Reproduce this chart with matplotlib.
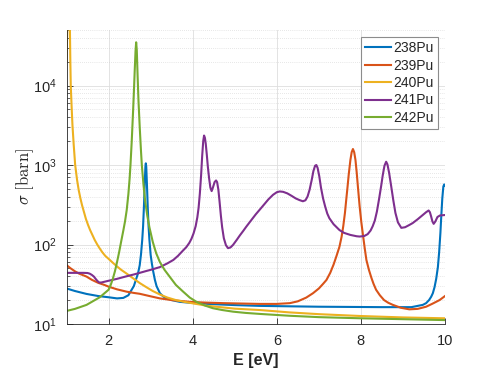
import matplotlib
matplotlib.use("Agg")
import matplotlib.pyplot as plt
from matplotlib.ticker import LogLocator, NullFormatter, FixedLocator

plt.rcParams['font.family'] = ['Liberation Sans', 'DejaVu Sans']
plt.rcParams['mathtext.fontset'] = 'cm'

labels = ['238Pu', '239Pu', '240Pu', '241Pu', '242Pu']
colors = ['#0072BD', '#D95319', '#EDB120', '#7E2F8E', '#77AC30']

x_238 = [1.0, 1.2, 1.475, 1.75, 2.0, 2.2, 2.35, 2.47, 2.6, 2.70, 2.74, 2.77, 2.80, 2.82, 2.84,
         2.86, 2.875, 2.885, 2.895, 2.91, 2.93, 2.95, 2.97, 3.00, 3.03, 3.06, 3.10, 3.14, 3.22,
         3.3, 3.38, 3.5, 3.69, 4.0, 4.33, 5.0, 5.59, 7.0, 8.5, 9.2, 9.47, 9.55, 9.62, 9.67,
         9.71, 9.75, 9.79, 9.83, 9.86, 9.89, 9.91, 9.935, 9.96, 9.98, 10.0]
y_238 = [28, 26, 23.9, 22.5, 21.7, 21.0, 21.3, 23, 30, 43.5, 55, 75, 115, 170, 300,
         600, 950, 1050, 950, 600, 300, 170, 115, 74, 57, 46, 36, 30, 24.4,
         22.2, 21, 20, 19, 18.4, 17.9, 17.3, 16.9, 16.5, 16.3, 16.3, 17.4, 18.3, 20, 22,
         24.4, 29, 37, 52, 80, 140, 224, 380, 537, 570, 550]

x_239 = [1.0, 1.1, 1.2, 1.3, 1.4, 1.475, 1.6, 1.75, 1.9, 2.0, 2.2, 2.43, 2.6, 2.74, 3.0,
         3.22, 3.5, 3.93, 4.3, 4.73, 5.59, 6.0, 6.31, 6.5, 6.7, 6.86, 7.0, 7.1, 7.18, 7.27,
         7.35, 7.42, 7.49, 7.54, 7.58, 7.62, 7.65, 7.68, 7.71, 7.75, 7.78, 7.81, 7.84, 7.87,
         7.90, 7.93, 7.97, 8.01, 8.05, 8.09, 8.13, 8.19, 8.25, 8.30, 8.36, 8.45, 8.55, 8.65,
         8.76, 8.95, 9.15, 9.35, 9.55, 9.7, 9.87, 10.0]
y_239 = [55, 50, 46, 43, 41, 39.5, 36, 33, 31, 29.5, 27.3, 25.5, 24.6, 24.0, 22.3,
         21, 20, 19, 18.6, 18.3, 17.9, 17.9, 18.3, 19.3, 21.5, 24.4, 28, 32, 35.8, 44,
         56, 72, 94, 125, 170, 250, 363, 520, 760, 1160, 1450, 1590, 1450, 1160,
         800, 520, 300, 190, 130, 90, 64, 48, 38, 32, 27, 23, 20, 18.5,
         17.4, 16, 15.3, 15.5, 16.5, 18, 20, 22.5]

x_240 = [1.0, 1.02, 1.04, 1.06, 1.075, 1.09, 1.10, 1.12, 1.14, 1.17, 1.205, 1.25, 1.29, 1.33,
         1.37, 1.42, 1.46, 1.51, 1.56, 1.62, 1.67, 1.73, 1.79, 1.85, 1.92, 2.0, 2.1, 2.2, 2.3,
         2.43, 2.6, 2.75, 2.9, 3.05, 3.22, 3.4, 3.6, 3.8, 4.0, 4.33, 4.7, 5.0, 5.59, 6.3, 7.0,
         8.0, 9.0, 10.0]
y_240 = [20000, 60000, 150000, 200000, 80000, 20000, 10000, 5500, 3200, 1800, 1000, 650, 480, 380,
         310, 250, 210, 177, 152, 130, 114, 100, 89, 80, 72, 66, 59, 53, 48,
         43, 37, 32.5, 29, 26, 23.5, 21.5, 20, 19, 18.2, 17, 16.2, 15.6, 15, 14, 13.3,
         12.6, 12.1, 11.8]

x_241 = [1.0, 1.2, 1.4, 1.5, 1.55, 1.6, 1.65, 1.7, 1.74, 1.78, 1.83, 1.9, 2.0, 2.2, 2.4,
         2.6, 2.74, 2.9, 3.0, 3.22, 3.4, 3.54, 3.65, 3.75, 3.85, 3.92, 3.97, 4.02, 4.07, 4.11,
         4.14, 4.17, 4.20, 4.225, 4.25, 4.27, 4.29, 4.31, 4.335, 4.36, 4.39, 4.42, 4.45, 4.48,
         4.52, 4.555, 4.58, 4.61, 4.64, 4.67, 4.70, 4.74, 4.79, 4.84, 4.90, 4.96, 5.05, 5.12,
         5.2, 5.275, 5.4, 5.5, 5.59, 5.7, 5.8, 5.91, 6.0, 6.07, 6.15, 6.25, 6.35, 6.45, 6.54,
         6.62, 6.68, 6.73, 6.78, 6.83, 6.87, 6.91, 6.94, 6.97, 7.01, 7.05, 7.10, 7.15, 7.2,
         7.25, 7.35, 7.49, 7.6, 7.75, 7.9, 7.97, 8.08, 8.16, 8.23, 8.28, 8.33, 8.38, 8.43,
         8.48, 8.52, 8.56, 8.60, 8.63, 8.67, 8.72, 8.77, 8.82, 8.88, 8.96, 9.05, 9.15, 9.23,
         9.35, 9.47, 9.55, 9.61, 9.64, 9.67, 9.70, 9.73, 9.77, 9.82, 9.88, 10.0]
y_241 = [44, 44, 44, 43.8, 43, 41.5, 39.5, 36.5, 34.5, 33.2, 33.3, 34, 35, 37, 39.5,
         42, 44, 46.5, 48, 52, 58, 64, 72, 82, 93, 105, 118, 138, 170, 220,
         290, 440, 750, 1300, 2000, 2350, 2200, 1850, 1350, 950, 680, 520, 470, 520,
         610, 640, 610, 490, 340, 230, 165, 120, 98, 90, 92, 99, 115, 130,
         148, 168, 205, 240, 273, 320, 370, 422, 455, 465, 460, 440, 410, 380, 362,
         350, 360, 400, 490, 650, 840, 980, 1000, 920, 720, 520, 380, 300, 245,
         214, 180, 152, 140, 132, 127, 126, 128, 135, 150, 170, 200, 260, 370,
         540, 750, 980, 1100, 1020, 800, 540, 360, 250, 190, 162, 165, 176, 186,
         208, 235, 255, 268, 255, 225, 195, 182, 195, 222, 232, 235]

x_242 = [1.0, 1.2, 1.475, 1.79, 2.0, 2.05, 2.1, 2.15, 2.2, 2.25, 2.3, 2.35, 2.39, 2.43, 2.47,
         2.50, 2.52, 2.55, 2.58, 2.60, 2.62, 2.64, 2.655, 2.67, 2.69, 2.71, 2.74, 2.77, 2.79,
         2.83, 2.87, 2.92, 2.97, 3.05, 3.13, 3.22, 3.33, 3.45, 3.6, 3.77, 3.93, 4.09, 4.3,
         4.48, 4.7, 4.96, 5.25, 5.59, 6.3, 7.0, 8.0, 9.0, 10.0]
y_242 = [14.6, 15.5, 17.4, 21.7, 27, 31, 37, 46, 60, 80, 110, 150, 195, 270, 430,
         680, 1000, 2000, 4500, 8000, 15000, 27000, 35000, 28000, 13000, 6500, 3000, 1500, 1000,
         560, 350, 230, 165, 108, 78, 60, 48, 39.5, 31, 25.6, 21.5, 19, 17,
         15.8, 15, 14.3, 13.8, 13.4, 12.7, 12.2, 11.8, 11.5, 11.2]

xs = [x_238, x_239, x_240, x_241, x_242]
ys = [y_238, y_239, y_240, y_241, y_242]

fig = plt.figure(figsize=(4.93, 3.70), dpi=100)
ax = fig.add_axes([0.135, 0.1243, 0.7677, 0.7947])

for x, y, c, l in zip(xs, ys, colors, labels):
    ax.plot(x, y, color=c, lw=1.5, label=l, solid_joinstyle='round')

ax.set_yscale('log')
ax.set_xlim(1, 10)
ax.set_ylim(10, 5e4)
ax.xaxis.set_major_locator(FixedLocator([2, 4, 6, 8, 10]))
ax.yaxis.set_major_locator(LogLocator(base=10, numticks=10))
ax.yaxis.set_minor_locator(LogLocator(base=10, subs=range(2, 10), numticks=20))
ax.yaxis.set_minor_formatter(NullFormatter())

ax.grid(True, which='major', color='#dedede', lw=0.6, ls='-')
ax.grid(True, which='minor', axis='y', color='#d0d0d0', lw=0.5, ls=(0, (1, 2)))
ax.set_axisbelow(True)

for s in ['top', 'right']:
    ax.spines[s].set_visible(False)
for s in ['left', 'bottom']:
    ax.spines[s].set_color('#262626')
    ax.spines[s].set_linewidth(0.6)

ax.tick_params(which='both', direction='in', colors='#262626', labelsize=10.5)
ax.tick_params(which='major', length=4, width=0.6, pad=7)
ax.tick_params(which='minor', length=2, width=0.5)

ax.set_xlabel('E [eV]', fontsize=11.5, fontweight='bold', color='#262626', labelpad=4)
ax.set_ylabel(r'$\sigma\ \mathrm{[barn]}$', fontsize=12, color='#262626')
ax.yaxis.set_label_coords(-0.082, 0.5)

leg = ax.legend(loc='upper right', fontsize=10, handlelength=1.85, handletextpad=0.2,
                borderpad=0.3, labelspacing=0.25, borderaxespad=0.5,
                fancybox=False, framealpha=1, edgecolor='#8c8c8c')
leg.get_frame().set_linewidth(0.8)
for t in leg.get_texts():
    t.set_color('#262626')

fig.savefig('out.png', dpi=100)
